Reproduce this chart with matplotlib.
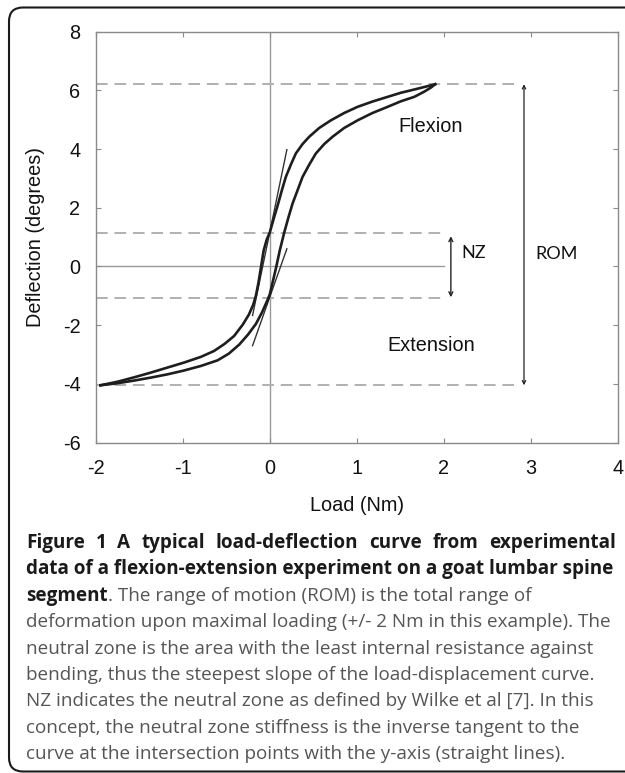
import matplotlib
matplotlib.use('Agg')
import matplotlib.pyplot as plt
from matplotlib.patches import FancyBboxPatch

plt.rcParams['axes.unicode_minus'] = False

# ---------------- data ----------------
# Left / upper branch of the hysteresis loop
branch_a_x = [-1.945, -1.75, -1.56, -1.37, -1.18, -0.99, -0.79, -0.64, -0.52, -0.41, -0.31,
              -0.24, -0.19, -0.16, -0.13, -0.10, -0.07, -0.035, 0.0, 0.05, 0.096, 0.138,
              0.184, 0.242, 0.299, 0.376, 0.453, 0.568, 0.702, 0.855, 1.009, 1.18, 1.354,
              1.507, 1.66, 1.795, 1.90]
branch_a_y = [-4.05, -3.93, -3.78, -3.62, -3.45, -3.28, -3.08, -2.88, -2.64, -2.37, -1.98,
              -1.64, -1.30, -1.00, -0.55, 0.0, 0.55, 0.92, 1.16, 1.68, 2.14, 2.59,
              3.05, 3.47, 3.85, 4.17, 4.42, 4.72, 4.98, 5.23, 5.44, 5.62, 5.78,
              5.92, 6.03, 6.13, 6.21]
# Right / lower branch of the hysteresis loop
branch_b_x = [-1.945, -1.75, -1.56, -1.37, -1.18, -0.99, -0.79, -0.60, -0.47, -0.35, -0.25,
              -0.16, -0.09, -0.03, 0.0, 0.04, 0.075, 0.115, 0.167, 0.215, 0.261, 0.318,
              0.376, 0.453, 0.529, 0.625, 0.721, 0.855, 1.009, 1.18, 1.354, 1.507, 1.66,
              1.776, 1.853, 1.90]
branch_b_y = [-4.05, -3.98, -3.89, -3.79, -3.68, -3.55, -3.39, -3.20, -2.97, -2.66, -2.32,
              -1.96, -1.57, -1.17, -0.95, -0.45, 0.0, 0.55, 1.17, 1.68, 2.14, 2.59,
              3.05, 3.47, 3.85, 4.17, 4.42, 4.72, 4.98, 5.23, 5.44, 5.63, 5.78,
              5.96, 6.10, 6.21]
# Tangent lines at the y-axis intersections
tangent1_x = [-0.198, 0.196]
tangent1_y = [-1.67, 3.98]
tangent2_x = [-0.198, 0.196]
tangent2_y = [-2.70, 0.60]
# Reference levels
rom_top, rom_bottom = 6.21, -4.05
nz_top, nz_bottom = 1.15, -1.07
x_ticks = [-2, -1, 0, 1, 2, 3, 4]
y_ticks = [-6, -4, -2, 0, 2, 4, 6, 8]

caption_bold = ["Figure 1 A typical load-deflection curve from experimental",
                "data of a flexion-extension experiment on a goat lumbar spine",
                "segment"]
caption_regular = [". The range of motion (ROM) is the total range of",
                   "deformation upon maximal loading (+/- 2 Nm in this example). The",
                   "neutral zone is the area with the least internal resistance against",
                   "bending, thus the steepest slope of the load-displacement curve.",
                   "NZ indicates the neutral zone as defined by Wilke et al [7]. In this",
                   "concept, the neutral zone stiffness is the inverse tangent to the",
                   "curve at the intersection points with the y-axis (straight lines)."]

# ---------------- figure ----------------
W, H = 625, 773
fig = plt.figure(figsize=(W / 100, H / 100), dpi=100)

# overlay in pixel coordinates for the frame and caption
ov = fig.add_axes([0, 0, 1, 1], zorder=0)
ov.set_xlim(0, W)
ov.set_ylim(H, 0)
ov.axis('off')
frame = FancyBboxPatch((9, 7.5), 660, 764, boxstyle='round,pad=0,rounding_size=14',
                       fill=False, ec='#1a1a1a', lw=1.5)
ov.add_patch(frame)

ax = fig.add_axes([95.7 / W, 1 - 442.5 / H, (618 - 95.7) / W, (442.5 - 31.7) / H], zorder=1)
ax.patch.set_alpha(0)

curve_col = '#1e1e1e'
ax.plot(branch_a_x, branch_a_y, color=curve_col, lw=1.9, solid_joinstyle='round', zorder=4)
ax.plot(branch_b_x, branch_b_y, color=curve_col, lw=1.9, solid_joinstyle='round', zorder=4)
ax.plot(tangent1_x, tangent1_y, color='#333333', lw=1.0, zorder=3)
ax.plot(tangent2_x, tangent2_y, color='#333333', lw=1.0, zorder=3)

# axis lines through zero
ax.axvline(0, color='#9a9a9a', lw=1.0, zorder=1)
ax.plot([-2, 2.0], [0, 0], color='#9a9a9a', lw=1.0, zorder=1)

# dashed reference lines
dash = dict(color='#b0b0b0', lw=1.4, ls=(0, (6, 3.5)), zorder=2)
ax.plot([-2, 2.85], [rom_top, rom_top], **dash)
ax.plot([-2, 2.85], [rom_bottom, rom_bottom], **dash)
ax.plot([-2, 1.97], [nz_top, nz_top], **dash)
ax.plot([-2, 1.97], [nz_bottom, nz_bottom], **dash)

# arrows
ax.annotate('', xy=(2.08, nz_top - 0.12), xytext=(2.08, nz_bottom + 0.02),
            arrowprops=dict(arrowstyle='<->', color='#222222', lw=1.0, mutation_scale=7,
                            shrinkA=0, shrinkB=0))
ax.annotate('', xy=(2.92, rom_top), xytext=(2.92, rom_bottom),
            arrowprops=dict(arrowstyle='<->', color='#222222', lw=0.9, mutation_scale=6,
                            shrinkA=0, shrinkB=0))

lab_font = ['Liberation Sans', 'DejaVu Sans']
fs_lab = 14.3
ax.text(1.85, 4.76, 'Flexion', ha='center', va='center', fontsize=fs_lab, family=lab_font, color='#111111')
ax.text(1.85, -2.69, 'Extension', ha='center', va='center', fontsize=fs_lab, family=lab_font, color='#111111')
ax.text(2.2, 0.45, 'NZ', ha='left', va='center', fontsize=13, family=['Lato', 'DejaVu Sans'], color='#111111')
ax.text(3.05, 0.42, 'ROM', ha='left', va='center', fontsize=13, family=['Lato', 'DejaVu Sans'], color='#111111')

ax.set_xlim(-2, 4)
ax.set_ylim(-6, 8)
ax.set_xticks(x_ticks)
ax.set_yticks(y_ticks)
ax.tick_params(direction='in', length=3.5, width=0.8, color='#8a8a8a',
               top=True, right=True, labelsize=fs_lab)
ax.tick_params(axis='y', pad=11)
ax.tick_params(axis='x', pad=12)
for lab in ax.get_xticklabels() + ax.get_yticklabels():
    lab.set_family(lab_font)
    lab.set_color('#111111')
for s in ax.spines.values():
    s.set_color('#8a8a8a')
    s.set_linewidth(1.0)
ax.set_xlabel('Load (Nm)', fontsize=fs_lab, family=lab_font, labelpad=13, color='#111111')
ax.set_ylabel('Deflection (degrees)', fontsize=fs_lab, family=lab_font, labelpad=13, color='#111111')

# ---------------- caption ----------------
cap_font = ['Open Sans', 'DejaVu Sans']
x0 = 26
line_y = [543 + 26.4 * i for i in range(9)]
fsz = 13.6
renderer = fig.canvas.get_renderer()

# first line is justified to the right edge of the text block
words = caption_bold[0].split(' ')
tmp = [ov.text(0, line_y[0], w, ha='left', va='center', fontsize=fsz, fontweight='bold',
               family=cap_font, color='#1a1a1a') for w in words]
widths = [t.get_window_extent(renderer).width for t in tmp]
right_edge = 616
gap = (right_edge - x0 - sum(widths)) / (len(words) - 1)
xc = x0
for t, w in zip(tmp, widths):
    t.set_x(xc)
    xc += w + gap

ov.text(x0, line_y[1], caption_bold[1], ha='left', va='center', fontsize=fsz,
        fontweight='bold', family=cap_font, color='#1a1a1a')
t_seg = ov.text(x0, line_y[2], caption_bold[2], ha='left', va='center', fontsize=fsz,
                fontweight='bold', family=cap_font, color='#1a1a1a')
seg_w = t_seg.get_window_extent(renderer).width
ov.text(x0 + seg_w, line_y[2], caption_regular[0], ha='left', va='center', fontsize=fsz,
        family=cap_font, color='#555555')
for i, line in enumerate(caption_regular[1:]):
    ov.text(x0, line_y[3 + i], line, ha='left', va='center', fontsize=fsz,
            family=cap_font, color='#555555')

fig.savefig('out.png', dpi=100)
